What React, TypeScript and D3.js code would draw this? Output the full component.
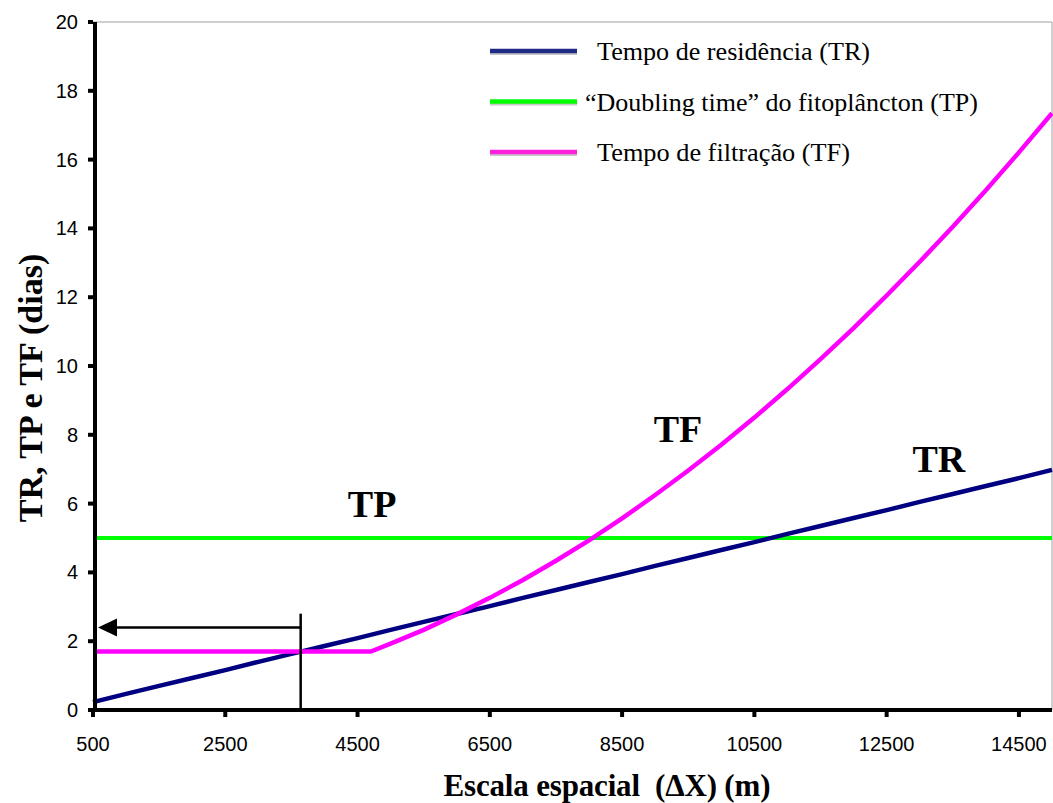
import React from "react";
import * as d3 from "d3";

// ---- data ----
const TR_X = [500, 1000, 1500, 2000, 2500, 3000, 3500, 4000, 4500, 5000, 5500, 6000, 6500, 7000, 7500, 8000, 8500, 9000, 9500, 10000, 10500, 11000, 11500, 12000, 12500, 13000, 13500, 14000, 14500, 15000];
const TR_Y = [0.23, 0.47, 0.70, 0.93, 1.16, 1.40, 1.63, 1.86, 2.09, 2.33, 2.56, 2.79, 3.02, 3.26, 3.49, 3.72, 3.95, 4.19, 4.42, 4.65, 4.88, 5.12, 5.35, 5.58, 5.81, 6.05, 6.28, 6.51, 6.74, 6.98];

const TP_X = [500, 15000];
const TP_Y = [5.0, 5.0];

const TF_X = [500, 1000, 1500, 2000, 2500, 3000, 3500, 4000, 4500, 4700, 5000, 5500, 6000, 6500, 7000, 7500, 8000, 8500, 9000, 9500, 10000, 10500, 11000, 11500, 12000, 12500, 13000, 13500, 14000, 14500, 15000];
const TF_Y = [1.70, 1.70, 1.70, 1.70, 1.70, 1.70, 1.70, 1.70, 1.70, 1.70, 1.93, 2.33, 2.78, 3.26, 3.78, 4.34, 4.93, 5.57, 6.25, 6.96, 7.71, 8.50, 9.33, 10.20, 11.10, 12.05, 13.03, 14.05, 15.11, 16.21, 17.35];

const X_TICKS = [500, 2500, 4500, 6500, 8500, 10500, 12500, 14500];
const Y_TICKS = [0, 2, 4, 6, 8, 10, 12, 14, 16, 18, 20];

const LEGEND_LABELS = [
  "Tempo de residência (TR)",
  "\u201CDoubling time\u201D do fitoplâncton (TP)",
  "Tempo de filtração (TF)",
];

const SERIES_LABELS = [
  { text: "TP", x: 4720, y: 5.6 },
  { text: "TF", x: 9345, y: 7.8 },
  { text: "TR", x: 13290, y: 6.92 },
];

// arrow marking the TR = TF crossing
const MARK_X = 3640;
const MARK_TOP = 2.8;
const ARROW_Y = 2.4;
const ARROW_END = 500;

const X_TITLE = "Escala espacial\u00A0\u00A0(\u0394X) (m)";
const Y_TITLE = "TR, TP e TF (dias)";

export default function App() {
  const W = 1053, H = 803;
  const left = 93, right = 1052, top = 22, bottom = 710;
  const x = d3.scaleLinear().domain([500, 15000]).range([left, right]);
  const y = d3.scaleLinear().domain([0, 20]).range([bottom, top]);

  const line = d3.line<[number, number]>().x(d => x(d[0])).y(d => y(d[1]));
  const trPath = line(TR_X.map((v, i) => [v, TR_Y[i]]))!;
  const tpPath = line(TP_X.map((v, i) => [v, TP_Y[i]]))!;
  const tfPath = line(TF_X.map((v, i) => [v, TF_Y[i]]))!;

  const serif = "'Liberation Serif', 'Times New Roman', serif";
  const sans = "'Liberation Sans', Arial, sans-serif";

  const legendColors = ["#1f2a85", "#00ff00", "#ff22dd"];
  const legendTextX = [597, 585, 597];
  const legendW = [273, 393, 253];

  const ax = x(MARK_X);
  const ay = y(ARROW_Y);
  const tipX = x(ARROW_END) + 5;

  return (
    <svg width={W} height={H} style={{ position: "absolute", left: 0, top: 0, background: "#fff" }}>
      <rect x={0} y={0} width={W} height={H} fill="#fff" />
      {/* plot frame (top/right) */}
      <line x1={left} x2={right} y1={top} y2={top} stroke="#a0a0a0" strokeWidth={1} />
      <line x1={right} x2={right} y1={top} y2={bottom} stroke="#a0a0a0" strokeWidth={1} />

      {/* series */}
      <path d={tpPath} fill="none" stroke="#00ff00" strokeWidth={4} />
      <path d={trPath} fill="none" stroke="#000080" strokeWidth={4.5} />
      <path d={tfPath} fill="none" stroke="#ff00ff" strokeWidth={4.5} strokeLinejoin="miter" />

      {/* marker lines */}
      <line x1={ax} x2={ax} y1={y(MARK_TOP)} y2={bottom} stroke="#000" strokeWidth={2.5} />
      <line x1={ax} x2={tipX + 14} y1={ay} y2={ay} stroke="#000" strokeWidth={2.5} />
      <path d={`M${tipX},${ay} L${tipX + 19},${ay - 9} L${tipX + 19},${ay + 9} Z`} fill="#000" />

      {/* axes */}
      <line x1={left + 2} x2={left + 2} y1={top} y2={bottom + 2} stroke="#000" strokeWidth={4} />
      <line x1={left} x2={right} y1={bottom} y2={bottom} stroke="#000" strokeWidth={4} />
      {Y_TICKS.map(t => (
        <g key={"y" + t}>
          <line x1={left - 5} x2={left} y1={y(t)} y2={y(t)} stroke="#000" strokeWidth={4} />
          <text x={78} y={y(t) + 7} textAnchor="end" fontFamily={sans} fontSize={20} fill="#000">{t}</text>
        </g>
      ))}
      {X_TICKS.map(t => (
        <g key={"x" + t}>
          <line x1={x(t)} x2={x(t)} y1={bottom} y2={bottom + 7} stroke="#000" strokeWidth={4} />
          <text x={x(t)} y={751} textAnchor="middle" fontFamily={sans} fontSize={20} fill="#000">{t}</text>
        </g>
      ))}

      {/* axis titles */}
      <text x={607} y={796} textAnchor="middle" fontFamily={serif} fontWeight="bold" fontSize={31} fill="#000" textLength={327} lengthAdjust="spacing">{X_TITLE}</text>
      <text transform={`translate(42,388) rotate(-90)`} textAnchor="middle" fontFamily={serif} fontWeight="bold" fontSize={34} fill="#000">{Y_TITLE}</text>

      {/* series labels */}
      {SERIES_LABELS.map(s => (
        <text key={s.text} x={x(s.x)} y={y(s.y)} textAnchor="middle" fontFamily={serif} fontWeight="bold" fontSize={38} fill="#000">{s.text}</text>
      ))}

      {/* legend */}
      {LEGEND_LABELS.map((lab, i) => {
        const ly = 51 + i * 50.5;
        return (
          <g key={lab}>
            <line x1={490} x2={577} y1={ly + 2} y2={ly + 2} stroke="#c8c8c8" strokeWidth={4} />
            <line x1={490} x2={577} y1={ly} y2={ly} stroke={legendColors[i]} strokeWidth={4.5} />
            <text x={legendTextX[i]} y={ly + 9} fontFamily={serif} fontSize={25} fill="#000" textLength={legendW[i]} lengthAdjust="spacingAndGlyphs">{lab}</text>
          </g>
        );
      })}
    </svg>
  );
}
